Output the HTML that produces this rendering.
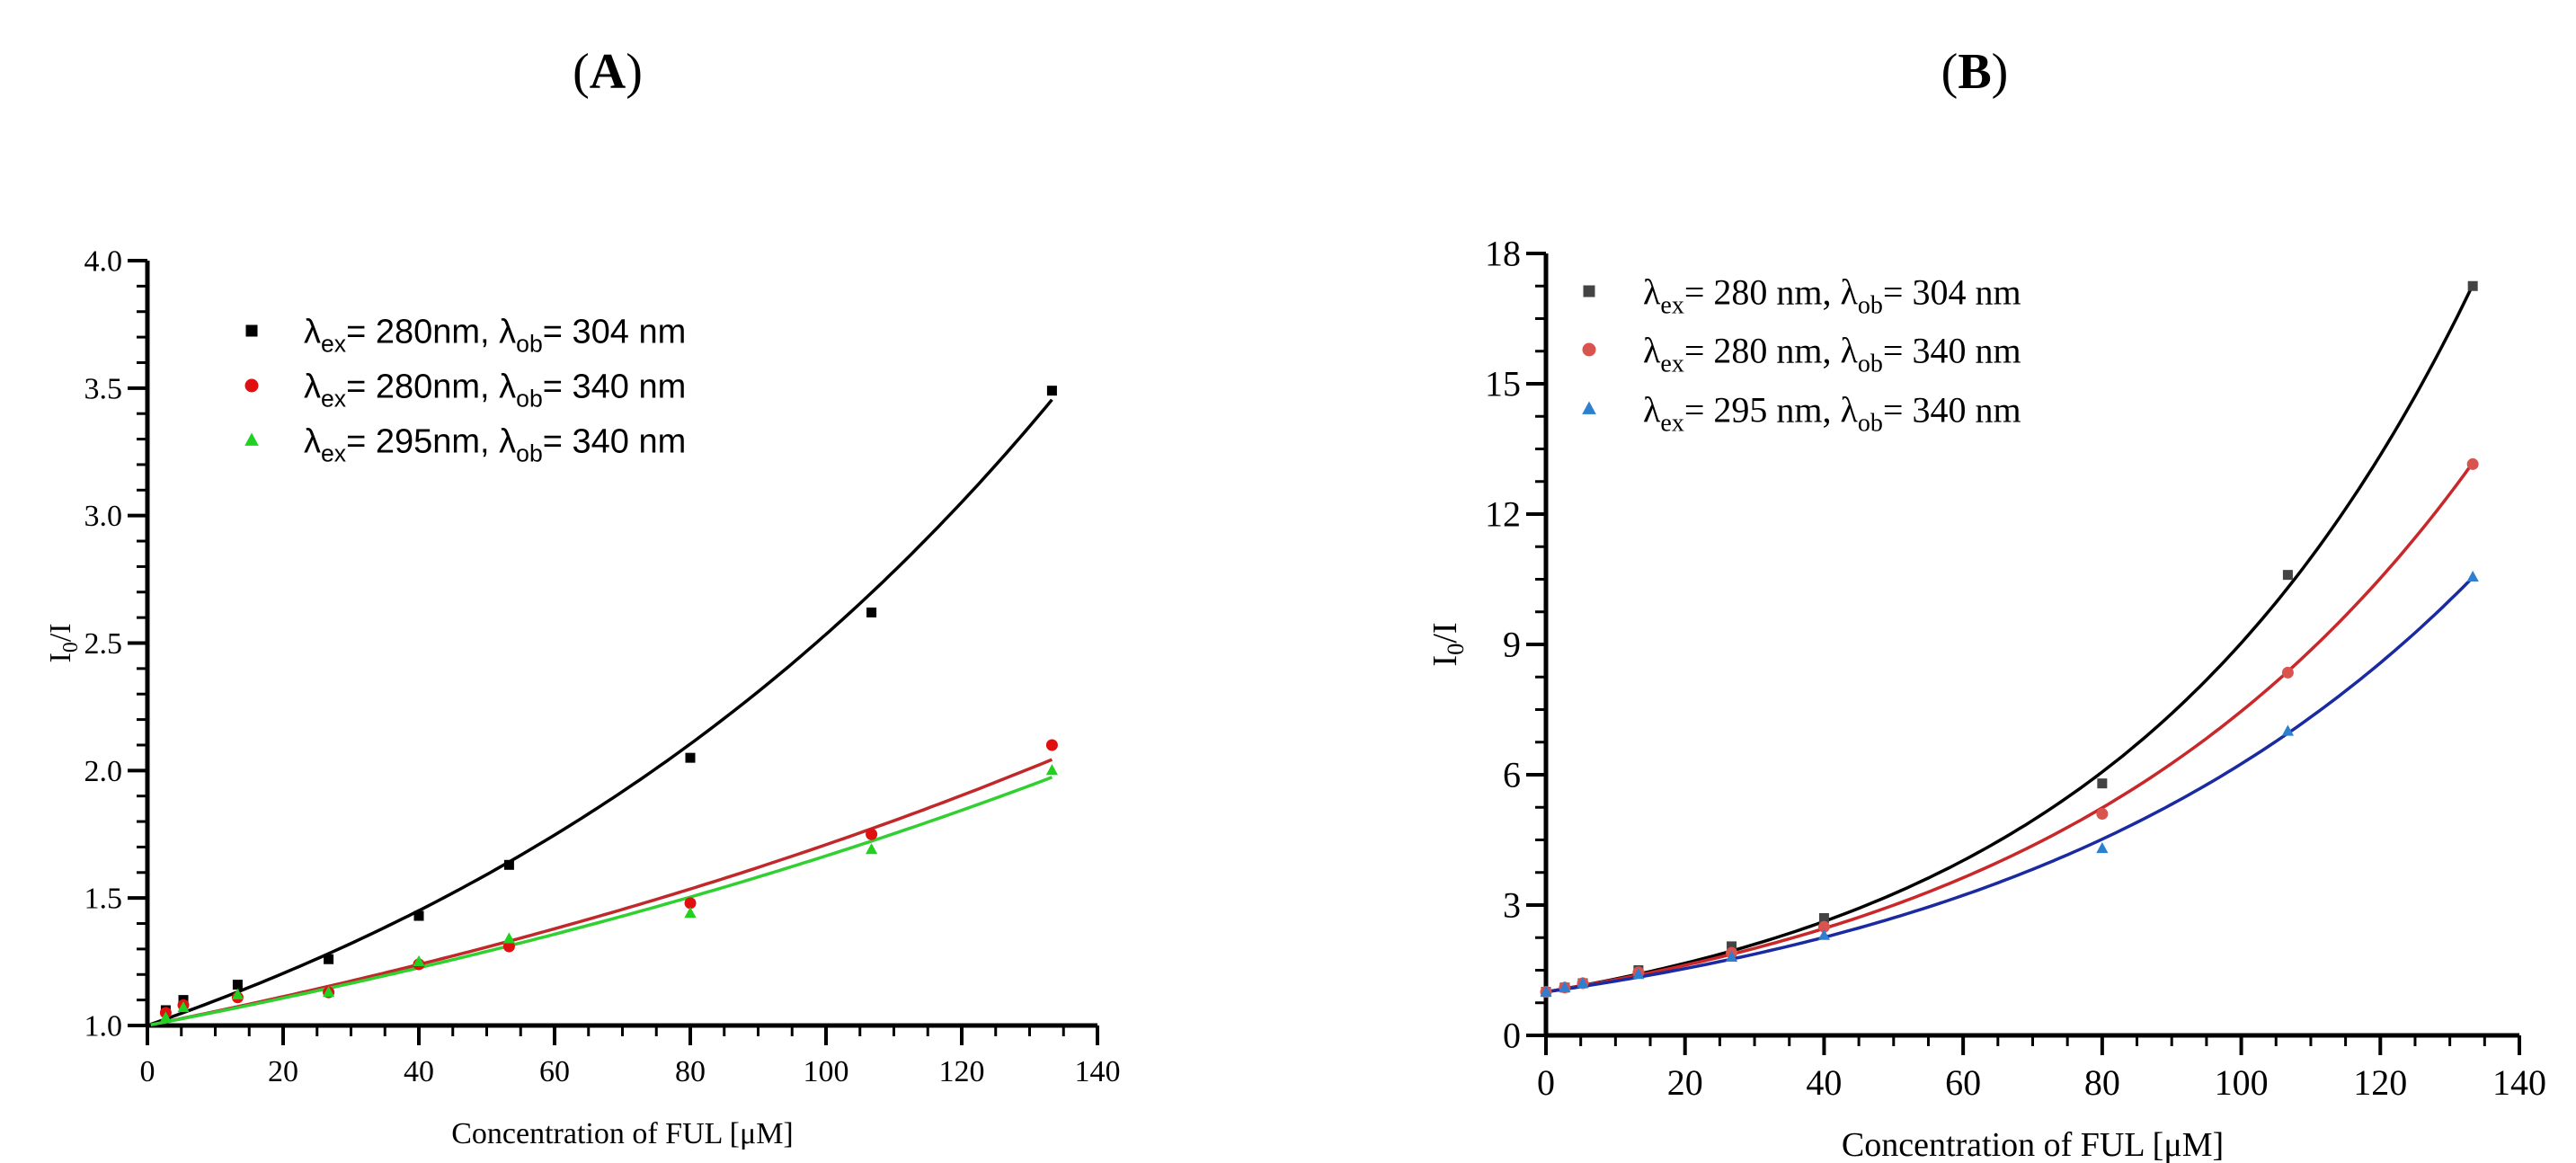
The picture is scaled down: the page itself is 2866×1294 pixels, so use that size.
<!DOCTYPE html>
<html><head><meta charset="utf-8">
<style>
html,body{margin:0;padding:0;background:#fff;}
svg{display:block;}
text{font-family:"Liberation Serif",serif;}
.sans{font-family:"Liberation Sans",sans-serif;}
</style></head>
<body>
<svg id="fig" width="2866" height="1294" viewBox="0 0 2866 1294" xmlns="http://www.w3.org/2000/svg">
<text x="676" y="98" font-size="56" text-anchor="middle">(<tspan font-weight="bold">A</tspan>)</text>
<text x="2197" y="98" font-size="56" text-anchor="middle">(<tspan font-weight="bold">B</tspan>)</text>
<g id="pa"></g>
<g id="pb"></g>
</svg>
<script>
// Panel A data
const xA = [2.7, 5.3, 13.3, 26.7, 40, 53.3, 80, 106.7, 133.3];
const aBlack = [1.06, 1.10, 1.16, 1.26, 1.43, 1.63, 2.05, 2.62, 3.49];
const aRed = [1.05, 1.08, 1.11, 1.13, 1.24, 1.31, 1.48, 1.75, 2.10];
const aGreen = [1.03, 1.07, 1.12, 1.13, 1.25, 1.34, 1.44, 1.69, 2.00];
const aFitK = [0.00930, 0.00536, 0.00510];
const aFitC = [1, 1, 1];
const aYTicks = ["1.0", "1.5", "2.0", "2.5", "3.0", "3.5", "4.0"];
const xTicks = ["0", "20", "40", "60", "80", "100", "120", "140"];
// Panel B data
const xB = [0, 2.7, 5.3, 13.3, 26.7, 40, 80, 106.7, 133.3];
const bBlack = [1.0, 1.1, 1.2, 1.5, 2.05, 2.7, 5.8, 10.6, 17.25];
const bRed = [1.0, 1.1, 1.2, 1.45, 1.9, 2.5, 5.1, 8.35, 13.15];
const bBlue = [1.0, 1.1, 1.2, 1.4, 1.8, 2.3, 4.3, 7.0, 10.55];
const bFitK = [0.01878, 0.01607, 0.01464];
const bFitC = [1.45, 1.62, 1.58];
const bYTicks = ["0", "3", "6", "9", "12", "15", "18"];

const NS = "http://www.w3.org/2000/svg";
function mk(parent, tag, attrs, txt){
  const e = document.createElementNS(NS, tag);
  for (const k in attrs) e.setAttribute(k, attrs[k]);
  if (txt !== undefined) e.textContent = txt;
  parent.appendChild(e);
  return e;
}
function marker(g, shape, cx, cy, s, color){
  let e;
  if (shape === "sq") e = mk(g, "rect", {x: cx - s/2, y: cy - s/2, width: s, height: s, fill: color});
  else if (shape === "ci") e = mk(g, "circle", {cx: cx, cy: cy, r: s/2 + 1, fill: color});
  else e = mk(g, "polygon", {points: `${cx},${cy - s*0.65} ${cx - s*0.6},${cy + s*0.45} ${cx + s*0.6},${cy + s*0.45}`, fill: color});
  return e;
}

function panel(g, cfg){
  const sx = v => cfg.L + (v - 0) / 140 * (cfg.R - cfg.L);
  const sy = v => cfg.B - (v - cfg.ymin) / (cfg.ymax - cfg.ymin) * (cfg.B - cfg.T);
  const fit = (i, x) => 1 + cfg.fitC[i] * (Math.exp(cfg.fitK[i] * x) - 1);
  let e = mk(g, "line", {x1: cfg.L, y1: cfg.T, x2: cfg.L, y2: cfg.B + 1, stroke: "#000", "stroke-width": 5});
  
  
  e = mk(g, "line", {x1: cfg.L - 2, y1: cfg.B, x2: cfg.R, y2: cfg.B, stroke: "#000", "stroke-width": 5});
  
  
  for (let v = 0; v <= 140; v += 5){
    const maj = v % 20 === 0;
    mk(g, "line", {x1: sx(v), y1: cfg.B, x2: sx(v), y2: cfg.B + (maj ? 22 : 12), stroke: "#000", "stroke-width": maj ? 4 : 3});
  }
  xTicks.forEach(t => {
    const lab = mk(g, "text", {x: sx(+t), y: cfg.B + cfg.xlabOff, "font-size": cfg.tickFs, "text-anchor": "middle"}, t);
    
    
  });
  const step = cfg.minorStep;
  for (let v = cfg.ymin; v <= cfg.ymax + 1e-9; v += step){
    const r = Math.round(v / step);
    const maj = r % cfg.minorPer === 0;
    mk(g, "line", {x1: cfg.L - (maj ? 22 : 12), y1: sy(v), x2: cfg.L, y2: sy(v), stroke: "#000", "stroke-width": maj ? 4 : 3});
  }
  cfg.yTicks.forEach(t => {
    const lab = mk(g, "text", {x: cfg.L - 28, y: sy(+t) + cfg.tickFs*0.34, "font-size": cfg.tickFs, "text-anchor": "end"}, t);
    
    
  });
  cfg.series.forEach((s, i) => {
    let d = "";
    for (let x = cfg.fitStart; x <= 133.3; x += 1){
      d += (d ? "L" : "M") + sx(x).toFixed(1) + "," + sy(fit(i, x)).toFixed(1);
    }
    d += "L" + sx(133.3).toFixed(1) + "," + sy(fit(i, 133.3)).toFixed(1);
    const p = mk(g, "path", {d: d, fill: "none", stroke: s.line, "stroke-width": 3.5});
    
    
  });
  cfg.series.forEach(s => {
    s.vals.forEach((v, j) => {
      const m = marker(g, s.shape, sx(cfg.xs[j]), sy(v), cfg.ms, s.color);
      
      
    });
  });
  cfg.series.forEach((s, i) => {
    const y = cfg.legY[i];
    const m = marker(g, s.shape, cfg.legMX, y, cfg.ms + 2, s.color);
    
    
    const t = mk(g, "text", {x: cfg.legTX, y: y + cfg.legFs*0.36, "font-size": cfg.legFs, "class": cfg.legClass});
    
    
    t.innerHTML = `λ<tspan font-size="${cfg.legFs*0.7}" dy="10">ex</tspan><tspan dy="-10">= ${s.ex}${cfg.sp}nm, λ</tspan><tspan font-size="${cfg.legFs*0.7}" dy="10">ob</tspan><tspan dy="-10">= ${s.ob} nm</tspan>`;
  });
  const yt = mk(g, "text", {x: 0, y: 0, "font-size": cfg.titleFs, "text-anchor": "middle", transform: `translate(${cfg.ytX},${(cfg.T + cfg.B)/2}) rotate(-90)`});
  yt.innerHTML = `I<tspan font-size="${cfg.titleFs*0.7}" dy="8">0</tspan><tspan dy="-8">/I</tspan>`;
  
  
  const xt = mk(g, "text", {x: (cfg.L + cfg.R)/2, y: cfg.xtY, "font-size": cfg.titleFs, "text-anchor": "middle"}, "Concentration of FUL [μM]");
  
  
}

panel(document.getElementById("pa"), {
  L: 164, R: 1221, T: 290, B: 1141, ymin: 1, ymax: 4, minorStep: 0.1, minorPer: 5,
  yTicks: aYTicks, xs: xA, fitK: aFitK, fitC: aFitC, fitStart: 0.5, tickFs: 34, xlabOff: 62, ms: 11,
  legY: [368, 429, 490], legMX: 280, legTX: 338, legFs: 38, legClass: "sans", sp: "",
  titleFs: 34, ytX: 78, xtY: 1272,
  series: [
    {id: "black", vals: aBlack, shape: "sq", color: "#000", line: "#000", ex: 280, ob: 304},
    {id: "red", vals: aRed, shape: "ci", color: "#e01010", line: "#c0282a", ex: 280, ob: 340},
    {id: "green", vals: aGreen, shape: "tr", color: "#22d022", line: "#30d030", ex: 295, ob: 340}
  ]
});
panel(document.getElementById("pb"), {
  L: 1720, R: 2803, T: 282, B: 1152, ymin: 0, ymax: 18, minorStep: 0.75, minorPer: 4,
  yTicks: bYTicks, xs: xB, fitK: bFitK, fitC: bFitC, fitStart: 0, tickFs: 40, xlabOff: 66, ms: 11,
  legY: [324, 389, 455], legMX: 1768, legTX: 1828, legFs: 40, legClass: "", sp: " ",
  titleFs: 38, ytX: 1620, xtY: 1286,
  series: [
    {id: "black", vals: bBlack, shape: "sq", color: "#444", line: "#000", ex: 280, ob: 304},
    {id: "red", vals: bRed, shape: "ci", color: "#d9534f", line: "#c8282a", ex: 280, ob: 340},
    {id: "blue", vals: bBlue, shape: "tr", color: "#2f7fd0", line: "#1a2aa0", ex: 295, ob: 340}
  ]
});
</script>
</body></html>
